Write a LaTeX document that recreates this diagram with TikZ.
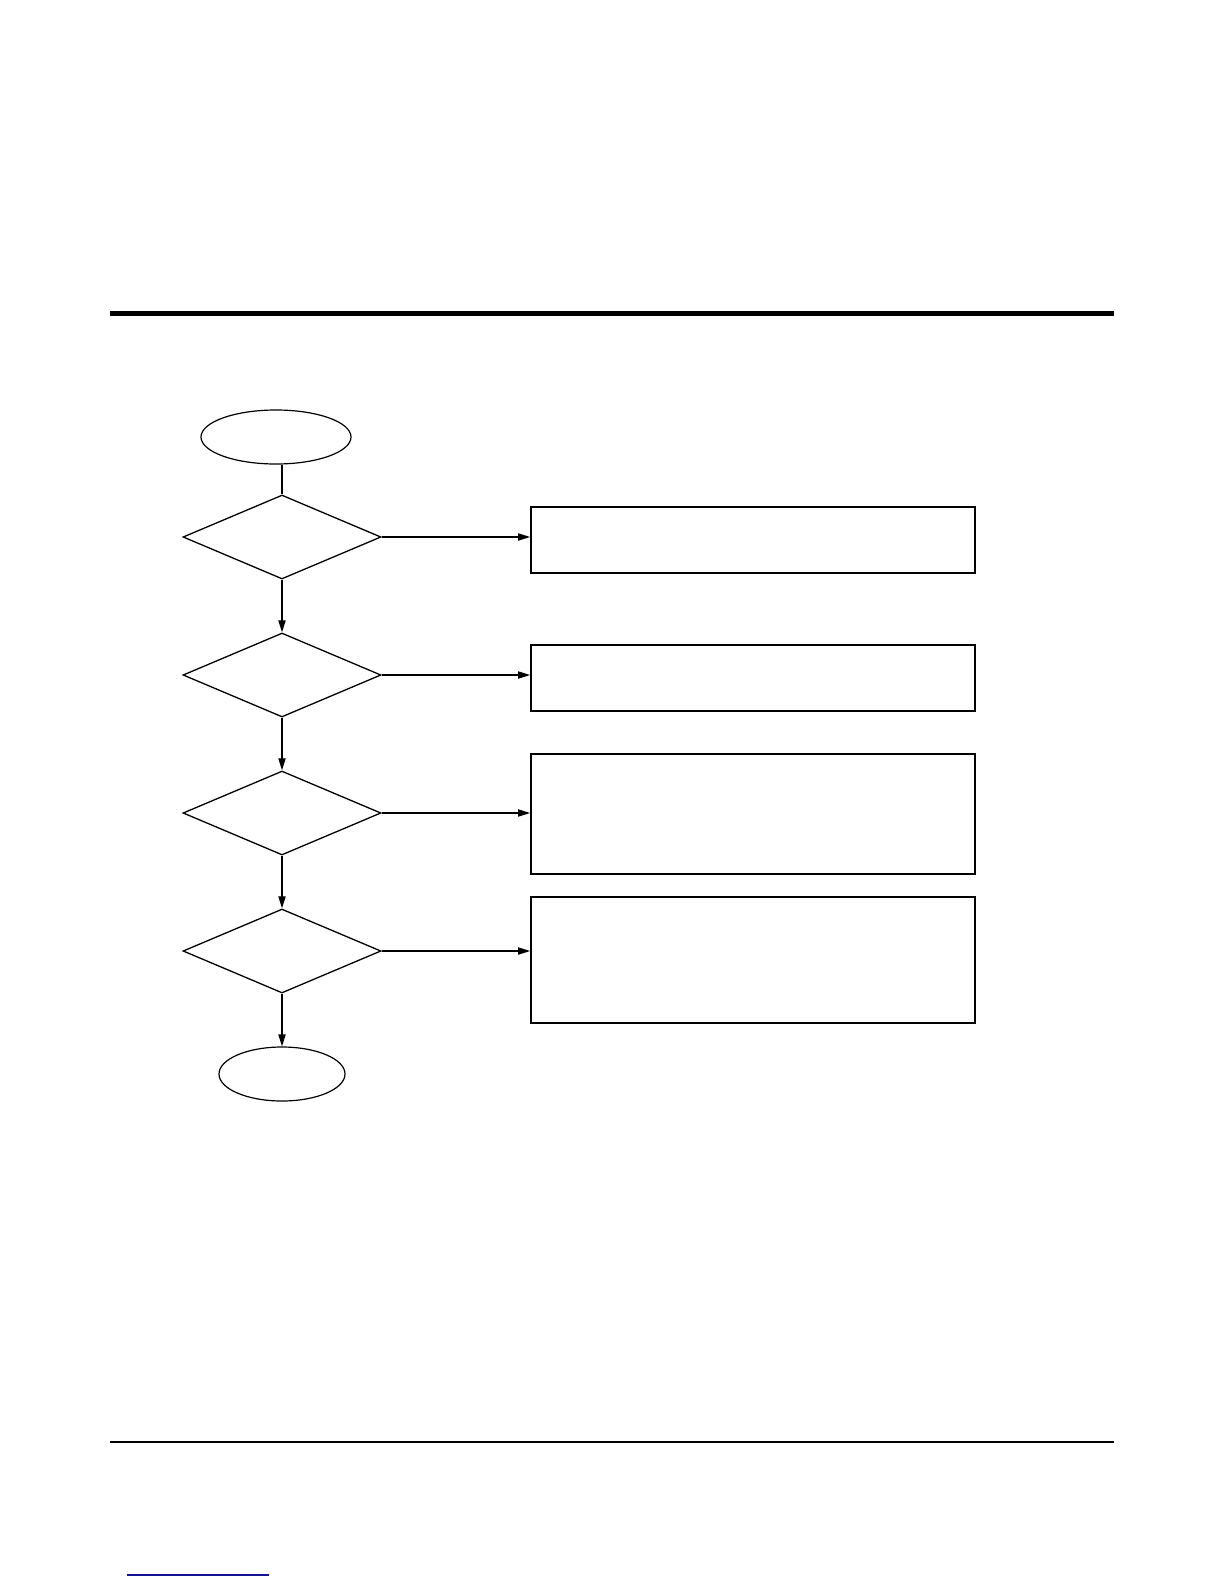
\documentclass[tikz,border=0pt]{standalone}
\usepackage{tikz}
\usetikzlibrary{positioning, shapes.geometric, arrows.meta}
\definecolor{linkblue}{RGB}{20,20,150}
\tikzset{
	flowarrow/.style={line width=0.6bp, -{Triangle[length=6bp,width=3.6bp]}}
}

\begin{document}
\begin{tikzpicture}[x=0.5bp, y=-0.5bp]

\tikzset{
    termnode/.style={
        shape=ellipse,
        draw=black,
        line width=0.6bp,
        minimum height=27bp,
        inner sep=0pt
    },
    decnode/.style={
        shape=diamond,
        draw=black,
        line width=0.65bp,
        minimum width=99bp,
        minimum height=42bp,
        inner sep=0pt
    },
    actnode/.style={
        shape=rectangle,
        draw=black,
        line width=0.9bp,
        minimum width=222bp,
        inner sep=0pt
    }
}

\useasboundingbox (0,0) rectangle (1224,1584);

% rules of the page
\draw[line width=2.35bp] (110,313.5) -- (1114,313.5);
\draw[line width=0.6bp] (110,1442) -- (1114,1442);
\draw[line width=0.6bp, linkblue] (127,1575) -- (269,1575);

\node[termnode, minimum width=75bp] (start) at (276,437) {};
\node[decnode] (d1) at (282,537) {};
\node[decnode] (d2) at (282,675) {};
\node[decnode] (d3) at (282,813) {};
\node[decnode] (d4) at (282,951) {};
\node[termnode, minimum width=63bp] (stop) at (282,1074) {};

\node[actnode, minimum height=33bp] (b1) at (753,540) {};
\node[actnode, minimum height=33bp] (b2) at (753,678) {};
\node[actnode, minimum height=60bp] (b3) at (753,814) {};
\node[actnode, minimum height=63bp] (b4) at (753,960) {};

\draw[line width=0.6bp] (start.south -| d1.north) -- (d1.north);
\draw[flowarrow] (d1) -- (d2);
\draw[flowarrow] (d2) -- (d3);
\draw[flowarrow] (d3) -- (d4);
\draw[flowarrow] (d4.south) -- (d4.south |- stop.north);

\draw[flowarrow] (d1.east) -- (d1.east -| b1.west);
\draw[flowarrow] (d2.east) -- (d2.east -| b2.west);
\draw[flowarrow] (d3.east) -- (d3.east -| b3.west);
\draw[flowarrow] (d4.east) -- (d4.east -| b4.west);
\end{tikzpicture}
\end{document}
